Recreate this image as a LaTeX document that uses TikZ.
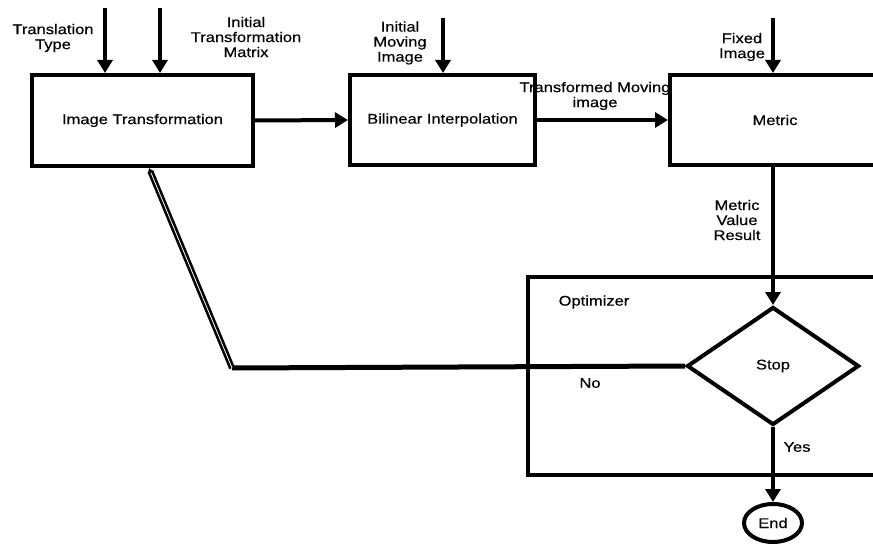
\documentclass[tikz,border=0pt]{standalone}
\usepackage{fontspec}
\setmainfont{Liberation Sans}[FakeStretch=1.18,FakeBold=0.4]
\usetikzlibrary{arrows.meta,shapes.geometric}
\begin{document}
\begin{tikzpicture}[x=1pt,y=-1pt,
  every node/.style={font=\fontsize{14}{15}\selectfont,inner sep=0pt,align=center},
  box/.style={draw,line width=4pt,rectangle},
  arr/.style={line width=4pt,-{Triangle[width=15pt,length=13pt]}},
  fbline/.style={double,line width=2.6pt,double distance=0.8pt,-{Latex[length=5pt,width=8pt]}}
]
\useasboundingbox (0,0) rectangle (873,548);
% boxes
\node[box,minimum width=221pt,minimum height=91pt] (itr) at (142.5,120.5) {Image Transformation};
\node[box,minimum width=185pt,minimum height=90pt] (bil) at (442.5,120) {Bilinear Interpolation};
\node[box,minimum width=206pt,minimum height=90pt] (met) at (773,120) {};
\node at (775,120) {Metric};
% optimizer frame
\draw[line width=4pt] (890,277) -- (528,277) -- (528,475) -- (890,475);
\node (optl) at (594,302) {Optimizer};
% decision
\node[draw,line width=4pt,diamond,minimum width=172pt,minimum height=118pt] (stop) at (773,366) {Stop};
\node[draw,line width=4pt,ellipse,minimum width=58pt,minimum height=38pt] (end) at (773,523) {End};
% top inputs
\coordinate (tt) at (105,8);
\coordinate (itm) at (160,8);
\coordinate (imi) at (443,18);
\coordinate (fi) at (773,18);
\draw[arr] (tt) -- (tt |- itr.north);
\draw[arr] (itm) -- (itm |- itr.north);
\draw[arr] (imi) -- (imi |- bil.north);
\draw[arr] (fi) -- (fi |- met.north);
\node (ttl) at (53,38) {Translation\\Type};
\node (itml) at (246,37) {Initial\\Transformation\\Matrix};
\node (imil) at (400,43) {Initial\\Moving\\Image};
\node (fil) at (742,47) {Fixed\\Image};
% main flow
\draw[arr] (itr.east) -- (bil.west);
\draw[arr] (bil.east) -- (met.west);
\node (tml) at (595,96) {Transformed Moving\\image};
\draw[arr] (met.south) -- (stop.north);
\node (mvr) at (737,220) {Metric\\Value\\Result};
\draw[arr] (stop.south) -- (end.north);
\node (yes) at (797,447) {Yes};
% feedback
\coordinate (fb) at (232,368);
\coordinate (tgt) at (149,168);
\draw[line width=5pt] (stop.west) -- (fb);
\draw[fbline] (fb) -- (tgt);
\node (no) at (590,383) {No};
\end{tikzpicture}
\end{document}
